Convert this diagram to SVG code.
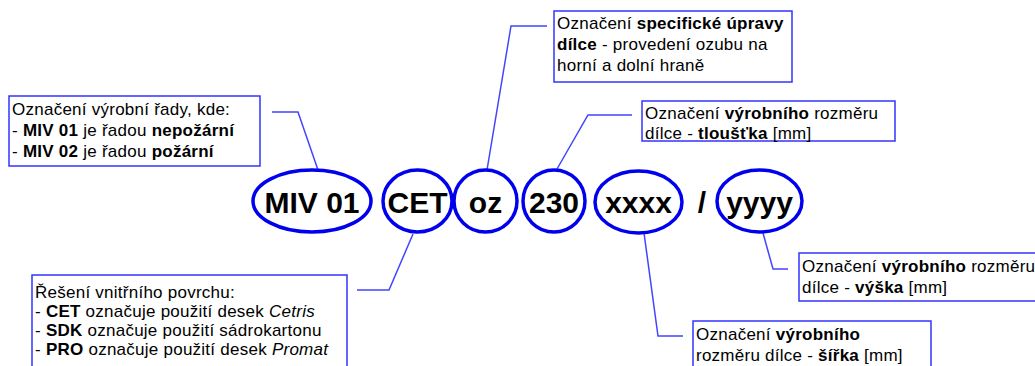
<svg xmlns="http://www.w3.org/2000/svg" width="1035" height="366" viewBox="0 0 1035 366">
<style>
.bg{fill:#ffffff}
.box{fill:#ffffff;stroke:#3333ff;stroke-width:1.5}
.t{font-family:"Liberation Sans",Arial,sans-serif;font-size:17px;fill:#000;letter-spacing:0.25px}
.b{font-weight:bold}
.i{font-style:italic}
.ell{fill:#ffffff;stroke:#0000ee;stroke-width:3.5}
.code{font-family:"Liberation Sans",Arial,sans-serif;font-size:30px;font-weight:bold;fill:#000;text-anchor:middle}
.con{fill:none;stroke:#4444ff;stroke-width:1.5}
</style>
<rect class="bg" x="0" y="0" width="1035" height="366"/>
<g id="connectors">
<polyline class="con" points="318,170 298,112 272,112"/>
<polyline class="con" points="413,234 389,290 357,290"/>
<polyline class="con" points="487,170 511,26 547,26"/>
<polyline class="con" points="557,169 588,115 632,115"/>
<polyline class="con" points="644,233 658,336 683,336"/>
<polyline class="con" points="763,233 773,269 788,269"/>
</g>
<g id="box-rada">
<rect class="box" x="9" y="96" width="251" height="70"/>
<text class="t" x="12" y="115">Označení výrobní řady, kde:</text>
<text class="t" x="12" y="136">- <tspan class="b">MIV 01</tspan> je řadou <tspan class="b">nepožární</tspan></text>
<text class="t" x="12" y="157">- <tspan class="b">MIV 02</tspan> je řadou <tspan class="b">požární</tspan></text>
</g>
<g id="box-uprava">
<rect class="box" x="554" y="11" width="238" height="71"/>
<text class="t" x="557" y="29">Označení <tspan class="b">specifické úpravy</tspan></text>
<text class="t" x="557" y="50"><tspan class="b">dílce</tspan> - provedení ozubu na</text>
<text class="t" x="557" y="71">horní a dolní hraně</text>
</g>
<g id="box-tloustka">
<rect class="box" x="642" y="101" width="253" height="40"/>
<text class="t" x="645" y="119">Označení <tspan class="b">výrobního</tspan> rozměru</text>
<text class="t" x="645" y="139">dílce - <tspan class="b">tloušťka</tspan> [mm]</text>
</g>
<g id="box-povrch">
<rect class="box" x="32" y="275" width="315" height="100"/>
<text class="t" x="35" y="298">Řešení vnitřního povrchu:</text>
<text class="t" x="35" y="317">- <tspan class="b">CET</tspan> označuje použití desek <tspan class="i">Cetris</tspan></text>
<text class="t" x="35" y="336">- <tspan class="b">SDK</tspan> označuje použití sádrokartonu</text>
<text class="t" x="35" y="355">- <tspan class="b">PRO</tspan> označuje použití desek <tspan class="i">Promat</tspan></text>
</g>
<g id="box-sirka">
<rect class="box" x="693" y="321" width="238" height="60"/>
<text class="t" x="696" y="340">Označení <tspan class="b">výrobního</tspan></text>
<text class="t" x="696" y="361">rozměru dílce - <tspan class="b">šířka</tspan> [mm]</text>
</g>
<g id="box-vyska">
<rect class="box" x="799" y="253" width="260" height="48"/>
<text class="t" x="802" y="272">Označení <tspan class="b">výrobního</tspan> rozměru</text>
<text class="t" x="802" y="293">dílce - <tspan class="b">výška</tspan> [mm]</text>
</g>
<g id="node-miv">
<ellipse class="ell" cx="312" cy="201" rx="59" ry="31"/>
<text class="code" x="312" y="213">MIV 01</text>
</g>
<g id="node-cet">
<ellipse class="ell" cx="417.5" cy="201" rx="34.5" ry="31"/>
<text class="code" x="417.5" y="213">CET</text>
</g>
<g id="node-oz">
<ellipse class="ell" cx="485.5" cy="201" rx="31.5" ry="31"/>
<text class="code" x="485.5" y="213">oz</text>
</g>
<g id="node-230">
<ellipse class="ell" cx="554" cy="201" rx="31" ry="31"/>
<text class="code" x="554" y="213">230</text>
</g>
<g id="node-xxxx">
<ellipse class="ell" cx="638.5" cy="202" rx="43.5" ry="31"/>
<text class="code" x="638.5" y="213">xxxx</text>
</g>
<g id="slash">
<text class="code" x="702" y="213">/</text>
</g>
<g id="node-yyyy">
<ellipse class="ell" cx="759.5" cy="201" rx="42.5" ry="31"/>
<text class="code" x="759.5" y="213">yyyy</text>
</g>
</svg>
